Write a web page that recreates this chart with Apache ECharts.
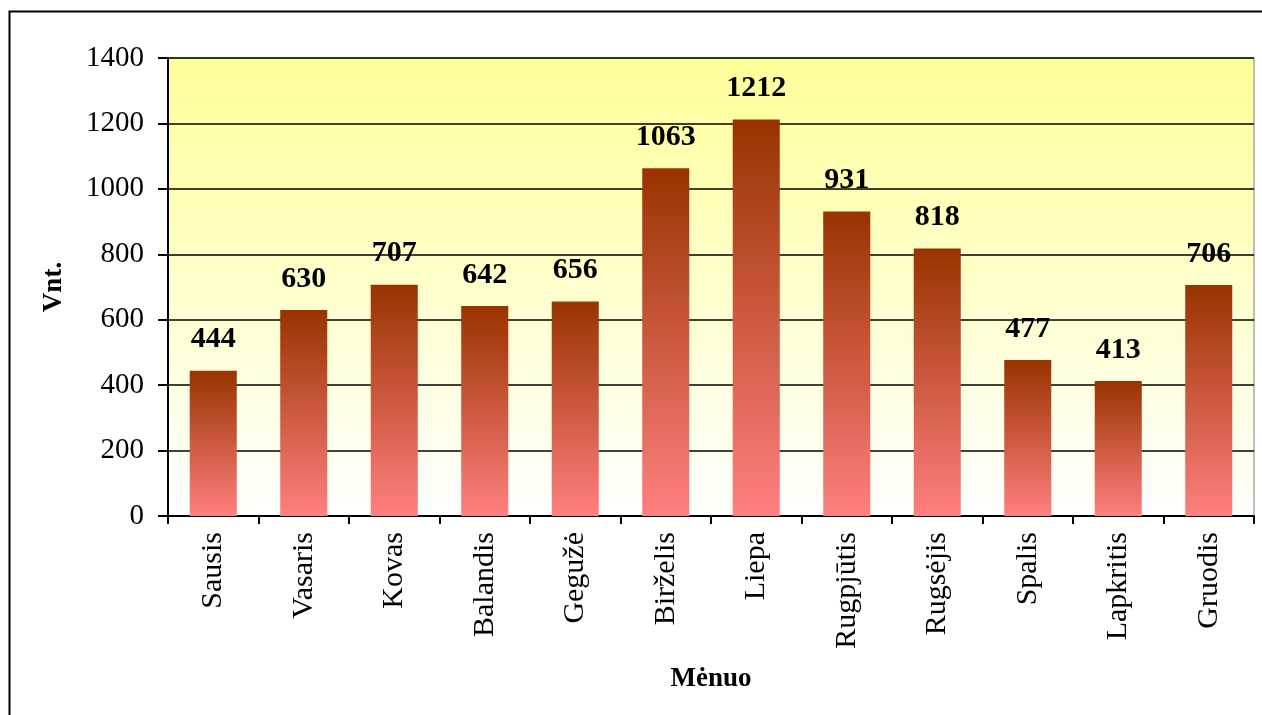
<!DOCTYPE html>
<html>
<head>
<meta charset="utf-8">
<script src="https://cdn.jsdelivr.net/npm/echarts@6/dist/echarts.min.js"></script>
<style>html,body{margin:0;padding:0;background:#fff;}#c{width:1262px;height:715px;}</style>
</head>
<body>
<div id="c"></div>
<script>
const categories = ['Sausis','Vasaris','Kovas','Balandis','Gegužė','Birželis','Liepa','Rugpjūtis','Rugsėjis','Spalis','Lapkritis','Gruodis'];
const values = [444, 630, 707, 642, 656, 1063, 1212, 931, 818, 477, 413, 706];
const yTicks = [0, 200, 400, 600, 800, 1000, 1200, 1400];

const chart = echarts.init(document.getElementById('c'));
const font = '"Liberation Serif", "Times New Roman", serif';
chart.setOption({
  animation: false,
  backgroundColor: '#ffffff',
  graphic: [{
    type: 'rect', left: 7, top: 9,
    shape: { width: 1400, height: 900 },
    style: { fill: 'none', stroke: '#000', lineWidth: 2 },
    z: 100, silent: true
  }],
  grid: {
    left: 168, right: 8, top: 58, bottom: 199,
    show: true,
    borderColor: '#808080', borderWidth: 1,
    backgroundColor: new echarts.graphic.LinearGradient(0, 0, 0, 1, [
      { offset: 0, color: '#FFFF99' },
      { offset: 1, color: '#FFFFFF' }
    ])
  },
  xAxis: {
    type: 'category',
    data: categories,
    name: 'Mėnuo',
    nameLocation: 'middle',
    nameGap: 150,
    nameTextStyle: { fontFamily: font, fontSize: 27, fontWeight: 'bold', color: '#000' },
    axisLine: { lineStyle: { color: '#000', width: 2 } },
    axisTick: { show: true, length: 8, lineStyle: { color: '#000', width: 2 }, alignWithLabel: false },
    axisLabel: { rotate: 90, fontFamily: font, fontSize: 30, color: '#000', margin: 16 },
    splitLine: { show: false }
  },
  yAxis: {
    type: 'value',
    min: 0, max: 1400, interval: 200,
    name: 'Vnt.',
    nameLocation: 'middle',
    nameRotate: 90,
    nameGap: 100,
    nameTextStyle: { fontFamily: font, fontSize: 27, fontWeight: 'bold', color: '#000' },
    axisLine: { show: true, lineStyle: { color: '#000', width: 2 } },
    axisTick: { show: true, length: 10, lineStyle: { color: '#000', width: 2 } },
    axisLabel: {
      fontFamily: font, fontSize: 29, color: '#000', margin: 24,
      formatter: function (v) { return yTicks.indexOf(v) >= 0 ? String(v) : ''; }
    },
    splitLine: { show: true, lineStyle: { color: '#000', width: 1.5 } }
  },
  series: [{
    type: 'bar',
    data: values,
    barWidth: '52%',
    itemStyle: {
      color: new echarts.graphic.LinearGradient(0, 0, 0, 1, [
        { offset: 0, color: '#993300' },
        { offset: 1, color: '#FF8080' }
      ])
    },
    label: {
      show: true, position: 'top', distance: 16,
      fontFamily: font, fontSize: 30, fontWeight: 'bold', color: '#000'
    }
  }]
});
</script>
</body>
</html>
